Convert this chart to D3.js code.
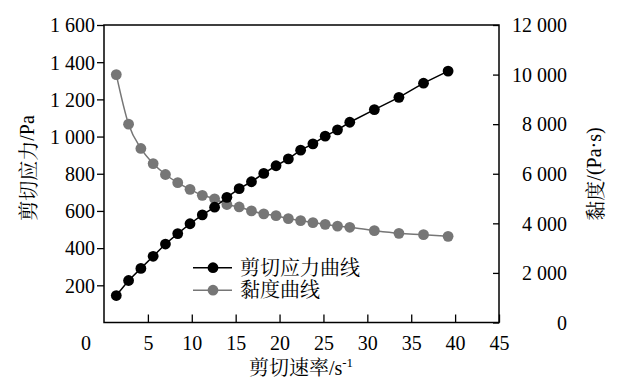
<!DOCTYPE html>
<html><head><meta charset="utf-8">
<script src="https://cdn.jsdelivr.net/npm/d3@7"></script>
<style>body{margin:0;background:#fff;}</style>
</head>
<body><svg id="c" width="620" height="388"></svg>
<script>
const shearRate = [1.4,2.8,4.2,5.6,7.0,8.4,9.8,11.2,12.6,14.0,15.4,16.8,18.2,19.6,21.0,22.4,23.8,25.2,26.6,28.0,30.8,33.6,36.4,39.2];
const shearStress = [145,226,291,356,422,478,531,579,620,673,720,757,802,843,880,927,961,1002,1036,1077,1145,1211,1287,1352];
const viscosity = [10000,8000,7020,6410,5970,5640,5370,5130,4990,4760,4660,4500,4380,4310,4190,4110,4030,3960,3890,3840,3705,3596,3543,3475];
const xTicks = [5,10,15,20,25,30,35,40,45];
const yLeftTicks = [200,400,600,800,1000,1200,1400,1600];
const yRightTicks = [0,2000,4000,6000,8000,10000,12000];
const seriesNames = ["剪切应力曲线","黏度曲线"];
const colors = ["#000000","#767676"];

const LAT = '"Liberation Serif"', CJK = '"Noto Serif CJK SC"';
function lat(s, size){ return s.style("font-family",LAT).style("font-size",(size||20)+"px").style("fill","#000"); }
function cjk(s, size){ return s.style("font-family",CJK).style("font-size",(size||20)+"px").style("fill","#000"); }

const svg = d3.select("#c");
const L=104, R=499, T=25, B=322.5;
const x = d3.scaleLinear().domain([0,45]).range([L,R]);
const yL = d3.scaleLinear().domain([0,1600]).range([B,T]);
const yR = d3.scaleLinear().domain([0,12000]).range([B,T]);
const loc = d3.formatLocale({decimal:".",thousands:"\u00a0",grouping:[3],currency:["",""]});
const fmt = loc.format(",d");

// left axis
const gL = svg.append("g").attr("transform",`translate(${L},0)`)
  .call(d3.axisLeft(yL).tickValues(yLeftTicks).tickSize(7).tickPadding(2).tickFormat(fmt));
gL.select(".domain").remove();
lat(gL.selectAll("text")).attr("dy","0.34em");
gL.selectAll("line").attr("stroke-width",1.3);

// right axis
const gR = svg.append("g").attr("transform",`translate(${R},0)`)
  .call(d3.axisRight(yR).tickValues(yRightTicks).tickSizeInner(-6).tickSizeOuter(0).tickFormat(fmt));
gR.select(".domain").remove();
lat(gR.selectAll("text")).attr("text-anchor","end").attr("x",68).attr("dy","0.34em");
gR.selectAll("line").attr("stroke-width",1.3);

// bottom axis
const gB = svg.append("g").attr("transform",`translate(0,${B})`)
  .call(d3.axisBottom(x).tickValues(xTicks).tickSizeInner(-8).tickSizeOuter(0));
gB.select(".domain").remove();
lat(gB.selectAll("text")).attr("y",27.5).attr("dy","0");
gB.selectAll("line").attr("stroke-width",1.3);
lat(svg.append("text").attr("x",x(0)-18).attr("y",B+27.5).attr("text-anchor","middle")).text("0");

// frame
svg.append("rect").attr("x",L).attr("y",T).attr("width",R-L).attr("height",B-T)
  .attr("fill","none").attr("stroke","#000").attr("stroke-width",1.5);

// viscosity (gray, smooth)
const vData = shearRate.map((d,i)=>[d,viscosity[i]]);
svg.append("path").datum(vData)
  .attr("fill","none").attr("stroke",colors[1]).attr("stroke-width",1.5)
  .attr("d",d3.line().x(d=>x(d[0])).y(d=>yR(d[1])).curve(d3.curveMonotoneX));
svg.append("g").selectAll("circle").data(vData).join("circle")
  .attr("cx",d=>x(d[0])).attr("cy",d=>yR(d[1])).attr("r",5.4).attr("fill",colors[1]);

// shear stress (black)
const sData = shearRate.map((d,i)=>[d,shearStress[i]]);
svg.append("path").datum(sData)
  .attr("fill","none").attr("stroke",colors[0]).attr("stroke-width",1.5)
  .attr("d",d3.line().x(d=>x(d[0])).y(d=>yL(d[1])));
svg.append("g").selectAll("circle").data(sData).join("circle")
  .attr("cx",d=>x(d[0])).attr("cy",d=>yL(d[1])).attr("r",5.4).attr("fill",colors[0]);

// legend
const leg = svg.append("g");
seriesNames.forEach((n,i)=>{
  const yy = 267.7 + i*22.5;
  leg.append("line").attr("x1",193).attr("x2",232).attr("y1",yy).attr("y2",yy).attr("stroke",colors[i]).attr("stroke-width",1.5);
  leg.append("circle").attr("cx",213).attr("cy",yy).attr("r",5.4).attr("fill",colors[i]);
  cjk(leg.append("text").attr("x",240).attr("y",yy+7)).text(n);
});

// titles
const t1 = svg.append("text").attr("transform","translate(27,168) rotate(-90)").attr("text-anchor","middle").attr("dominant-baseline","central");
cjk(t1.append("tspan")).text("剪切应力");
lat(t1.append("tspan")).text("/Pa");
const t2 = svg.append("text").attr("transform","translate(594,174) rotate(-90)").attr("text-anchor","middle").attr("dominant-baseline","central");
cjk(t2.append("tspan")).text("黏度");
lat(t2.append("tspan")).text("/(Pa·s)");
const xt = svg.append("text").attr("x",301).attr("y",375).attr("text-anchor","middle");
cjk(xt.append("tspan")).text("剪切速率");
lat(xt.append("tspan")).text("/s");
lat(xt.append("tspan").attr("dy",-8),13).text("-1");
</script></body></html>
